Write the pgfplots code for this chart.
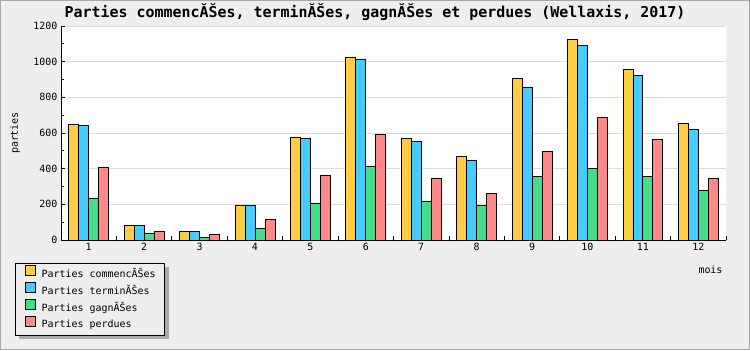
\documentclass[border=0pt]{standalone}
\usepackage{pgfplots}
\pgfplotsset{compat=1.18}
\usepackage{fontspec}
\setmainfont{DejaVu Sans Mono}
\setmonofont{DejaVu Sans Mono}
\definecolor{bg}{HTML}{EEEEEE}
\definecolor{frame}{HTML}{A8A8A8}
\definecolor{gridc}{HTML}{DDDDDD}
\definecolor{shad}{HTML}{AAAAAA}
\definecolor{cY}{HTML}{FFCC44}
\definecolor{cB}{HTML}{44CCFF}
\definecolor{cG}{HTML}{44DD88}
\definecolor{cR}{HTML}{FF8888}
\pgfdeclarelayer{bottom}
\pgfdeclarelayer{shadowlayer}
\pgfsetlayers{bottom,shadowlayer,main}
\pgfplotsset{
  sq/.style={legend image code/.code={\path (0bp,0bp) (16bp,0bp); \draw[##1,line width=0.8bp] (3bp,-1.5bp) rectangle (13bp,8.5bp);}},
}
\begin{document}
\begin{tikzpicture}[x=1bp,y=1bp]
\begin{pgfonlayer}{bottom}
\fill[bg] (0,0) rectangle (750,350);
\draw[frame,line width=1bp] (0.5,0.5) rectangle (749.5,349.5);
\end{pgfonlayer}
\begin{axis}[
  at={(61bp,110bp)}, anchor=south west,
  width=665bp, height=214bp, scale only axis,
  xmin=0.5, xmax=12.5, ymin=0, ymax=1200,
  axis background/.style={fill=white},
  axis x line=bottom, axis y line=left,
  axis line style={-,black,line width=0.8bp},
  tick align=inside,
  tick style={black,line width=0.8bp},
  major tick length=4bp, minor tick length=3bp,
  xtick={0.5,1.5,...,12.5}, xticklabels={},
  extra x ticks={1,2,3,4,5,6,7,8,9,10,11,12},
  extra x tick style={major tick length=0pt},
  ytick={0,200,...,1200}, minor y tick num=1,
  ymajorgrids, grid style={gridc,line width=0.8bp},
  /pgf/number format/assume math mode=true,
  /pgf/number format/1000 sep={},
  ticklabel style={font=\fontsize{10}{12}\selectfont},
  ylabel={parties},
  ylabel style={at={(axis description cs:-0.069,0.5)},anchor=center,font=\fontsize{10}{12}\selectfont},
  xlabel={mois},
  xlabel style={at={(axis description cs:1,-0.14)},anchor=east,font=\fontsize{10}{12}\selectfont},
  legend style={at={(axis description cs:-0.069,-0.107)},anchor=north west,
    name=leg,
    fill=bg, draw=black, line width=0.8bp,
    font=\fontsize{10}{12}\selectfont,
    inner xsep=6bp, inner ysep=2bp,
    nodes={text height=8bp,text depth=2bp,inner ysep=3bp,inner xsep=3.3bp}},
  legend cell align=left,
]
\addplot[ybar,sq,bar width=0.18,bar shift=-0.27,fill=cY,draw=black,line width=0.8bp] coordinates {
(1,650) (2,80) (3,46) (4,192) (5,578) (6,1025) (7,570) (8,470) (9,907) (10,1125) (11,958) (12,656)};
\addplot[ybar,sq,bar width=0.18,bar shift=-0.09,fill=cB,draw=black,line width=0.8bp] coordinates {
(1,643) (2,80) (3,46) (4,192) (5,570) (6,1012) (7,555) (8,449) (9,857) (10,1092) (11,922) (12,622)};
\addplot[ybar,sq,bar width=0.18,bar shift=0.09,fill=cG,draw=black,line width=0.8bp] coordinates {
(1,236) (2,35) (3,17) (4,67) (5,208) (6,415) (7,218) (8,192) (9,358) (10,402) (11,358) (12,276)};
\addplot[ybar,sq,bar width=0.18,bar shift=0.27,fill=cR,draw=black,line width=0.8bp] coordinates {
(1,408) (2,46) (3,30) (4,117) (5,365) (6,593) (7,343) (8,259) (9,499) (10,689) (11,566) (12,347)};
\legend{Parties commencĂŠes,Parties terminĂŠes,Parties gagnĂŠes,Parties perdues}
\end{axis}
\begin{pgfonlayer}{shadowlayer}
\fill[shad] ([shift={(4bp,-4bp)}]leg.south west) rectangle ([shift={(4bp,-4bp)}]leg.north east);
\end{pgfonlayer}
\node[font=\bfseries\fontsize{15}{18}\selectfont] at (375,338) {Parties commencĂŠes, terminĂŠes, gagnĂŠes et perdues (Wellaxis, 2017)};
\end{tikzpicture}
\end{document}
